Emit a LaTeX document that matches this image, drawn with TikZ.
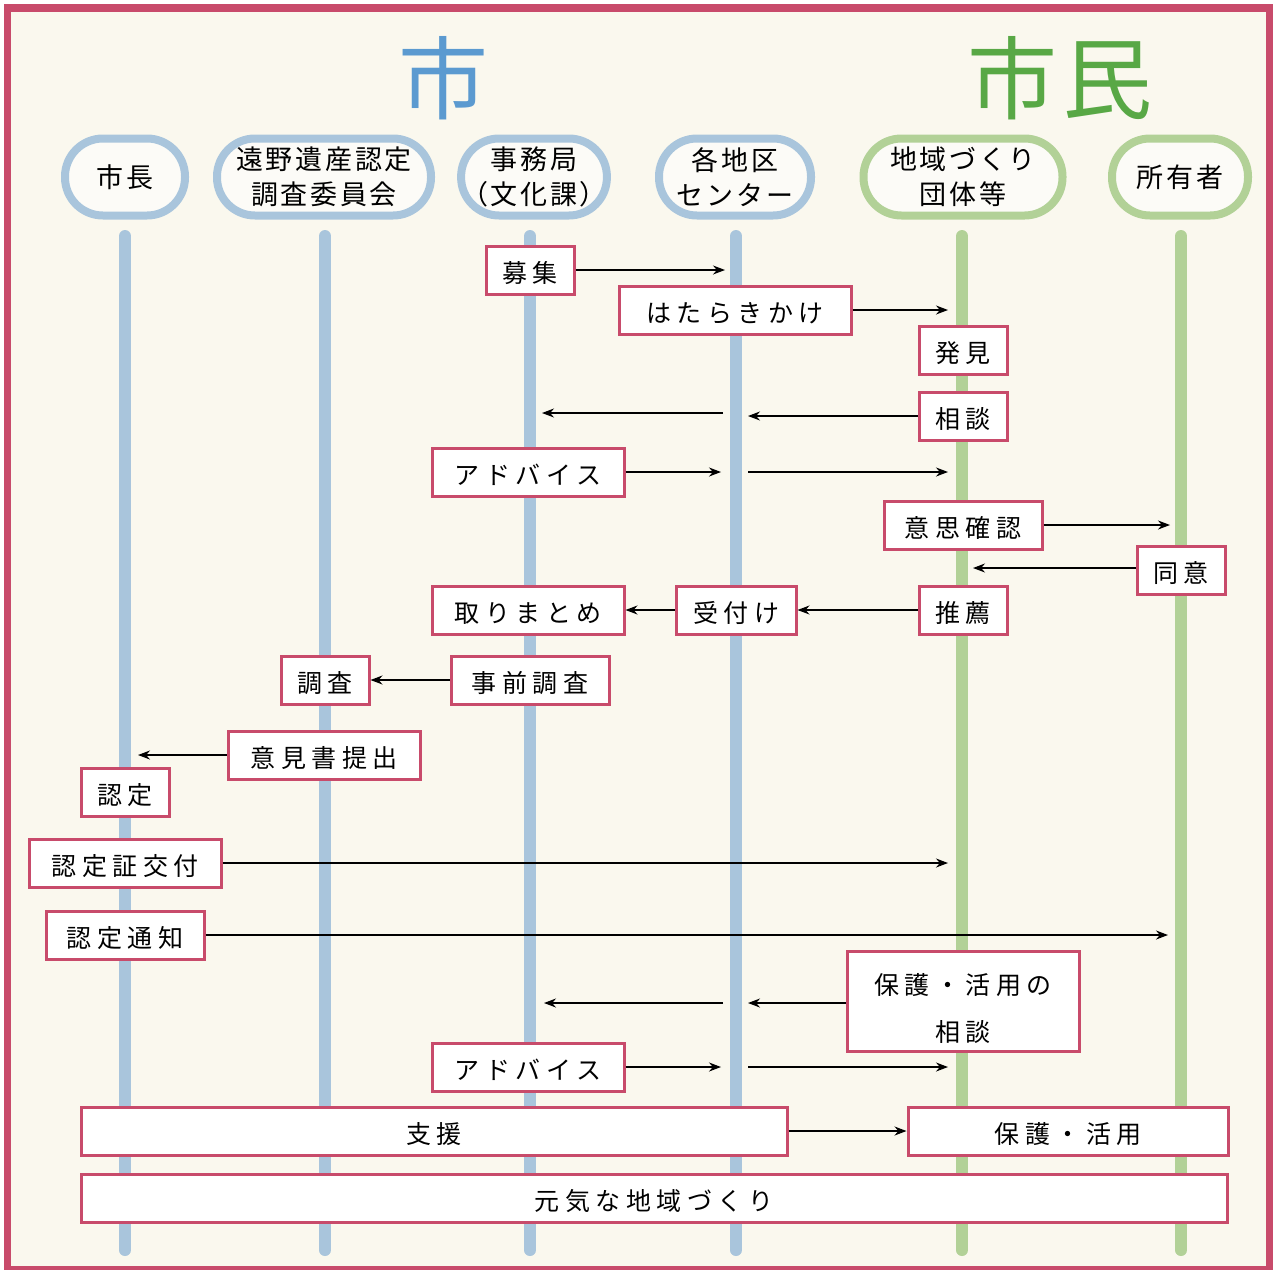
\documentclass[tikz,border=0pt]{standalone}
\usepackage{fontspec}
\setmainfont{Noto Sans CJK JP}
\newfontfamily\jphdr[LetterSpace=10]{Noto Sans CJK JP}
\newfontfamily\jpmsg[LetterSpace=22]{Noto Sans CJK JP}
\newfontfamily\jpttl[LetterSpace=6]{Noto Sans CJK JP}
\usetikzlibrary{arrows.meta}
\definecolor{mag}{HTML}{C84B6B}
\definecolor{cream}{HTML}{FAF8EE}
\definecolor{lblue}{HTML}{A9C5DC}
\definecolor{lgreen}{HTML}{B2D197}
\definecolor{tblue}{HTML}{5B9AD0}
\definecolor{tgreen}{HTML}{58A845}
\definecolor{hfill}{HTML}{FCFBF7}
\tikzset{
  hdr/.style={draw=#1, line width=4pt, rounded corners=19pt, fill=hfill,
    minimum height=38.5pt, inner sep=0pt, align=center,
    font=\jphdr\fontsize{13.5}{17.5}\selectfont},
  msgbase/.style={draw=mag, line width=1.5pt, fill=white, minimum height=24pt,
    inner sep=0pt, align=center,
    font=\jpmsg\fontsize{12.5}{23.5}\selectfont},
  msg/.style={msgbase, text height=12pt, text depth=0pt},
  life/.style={line width=6pt, line cap=round, draw=#1},
  arr/.style={-{Stealth[length=6pt,width=4.5pt]}, line width=0.6pt, draw=black},
  ttl/.style={font=\jpttl\fontsize{45}{48}\selectfont, text=#1, inner sep=0pt}
}
\begin{document}
\begin{tikzpicture}[x=0.5pt,y=-0.5pt]
\useasboundingbox (0,0) rectangle (1274,1270);
\fill[white] (0,0) rectangle (1274,1270);
\fill[mag] (4,4) rectangle (1273,1270);
\fill[cream] (11,12) rectangle (1266,1266);

% titles
\node[ttl=tblue] (tcity) at (443,78) {市};
\node[ttl=tgreen] (tcitizen) at (1060,78) {市民};

% headers
\node[hdr=lblue, minimum width=60pt] (h1) at (125,177) {市長};
\node[hdr=lblue, minimum width=107pt] (h2) at (324,177) {遠野遺産認定\\調査委員会};
\node[hdr=lblue, minimum width=72pt] (h3) at (534,177) {事務局\\（文化課）};
\node[hdr=lblue, minimum width=76pt] (h4) at (735,177) {各地区\\センター};
\node[hdr=lgreen, minimum width=99.5pt] (h5) at (963,177) {地域づくり\\団体等};
\node[hdr=lgreen, minimum width=68pt] (h6) at (1180,177) {所有者};

% lifelines
\draw[life=lblue] (125,236) -- (125,1250);
\draw[life=lblue] (325,236) -- (325,1250);
\draw[life=lblue] (530,236) -- (530,1250);
\draw[life=lblue] (736,236) -- (736,1250);
\draw[life=lgreen] (962,236) -- (962,1250);
\draw[life=lgreen] (1181,236) -- (1181,1250);

% message boxes
\node[msg, minimum width=44pt] (boshu) at (530,270) {募集};
\node[msg, minimum width=116pt] (hatara) at (735,310) {はたらきかけ};
\node[msg, minimum width=44pt] (hakken) at (963,350) {発見};
\node[msg, minimum width=44pt] (soudan) at (963,416) {相談};
\node[msg, minimum width=96pt] (adv1) at (528,472) {アドバイス};
\node[msg, minimum width=79pt] (ishi) at (963,525) {意思確認};
\node[msg, minimum width=44pt] (doui) at (1181,570) {同意};
\node[msg, minimum width=44pt] (suisen) at (963,610) {推薦};
\node[msg, minimum width=60pt] (uketsuke) at (736,610) {受付け};
\node[msg, minimum width=96pt] (torimatome) at (528,610) {取りまとめ};
\node[msg, minimum width=79pt] (jizen) at (530,680) {事前調査};
\node[msg, minimum width=44pt] (chousa) at (325,680) {調査};
\node[msg, minimum width=96pt] (ikensho) at (324,755) {意見書提出};
\node[msg, minimum width=44pt] (nintei) at (125,792) {認定};
\node[msg, minimum width=96pt] (shoukofu) at (125,863) {認定証交付};
\node[msg, minimum width=79pt] (tsuchi) at (125,935) {認定通知};
\node[msgbase, minimum width=116pt, minimum height=50pt] (hsoudan) at (963,1001) {\rule{0pt}{18pt}保護・活用の\\相談};
\node[msg, minimum width=96pt] (adv2) at (528,1067) {アドバイス};
\node[msg, minimum width=353pt] (shien) at (434,1131) {支援};
\node[msg, minimum width=160pt] (hogo) at (1068,1131) {保護・活用};
\node[msg, minimum width=573pt] (genki) at (654,1198) {元気な地域づくり};

% free ends
\coordinate (e1) at (725,270);
\coordinate (e2) at (948,310);
\coordinate (e3) at (748,416);
\coordinate (s4) at (723,413);
\coordinate (e4) at (542,413);
\coordinate (e5) at (721,472);
\coordinate (s6) at (748,472);
\coordinate (e6) at (948,472);
\coordinate (e7) at (1170,525);
\coordinate (e8) at (973,568);
\coordinate (e9) at (138,755);
\coordinate (e10) at (948,863);
\coordinate (e11) at (1168,935);
\coordinate (s12) at (846,1003);
\coordinate (e12) at (748,1003);
\coordinate (s13) at (723,1003);
\coordinate (e13) at (544,1003);
\coordinate (e14) at (721,1067);
\coordinate (s15) at (748,1067);
\coordinate (e15) at (948,1067);

% arrows
\draw[arr] (boshu.east) -- (e1);
\draw[arr] (hatara.east) -- (e2);
\draw[arr] (soudan.west) -- (e3);
\draw[arr] (s4) -- (e4);
\draw[arr] (adv1.east) -- (e5);
\draw[arr] (s6) -- (e6);
\draw[arr] (ishi.east) -- (e7);
\draw[arr] (doui.west |- e8) -- (e8);
\draw[arr] (suisen.west) -- (uketsuke.east);
\draw[arr] (uketsuke.west) -- (torimatome.east);
\draw[arr] (jizen.west) -- (chousa.east);
\draw[arr] (ikensho.west) -- (e9);
\draw[arr] (shoukofu.east) -- (e10);
\draw[arr] (tsuchi.east) -- (e11);
\draw[arr] (hsoudan.west |- s12) -- (e12);
\draw[arr] (s13) -- (e13);
\draw[arr] (adv2.east) -- (e14);
\draw[arr] (s15) -- (e15);
\draw[arr] (shien.east) -- (hogo.west);
\end{tikzpicture}
\end{document}
